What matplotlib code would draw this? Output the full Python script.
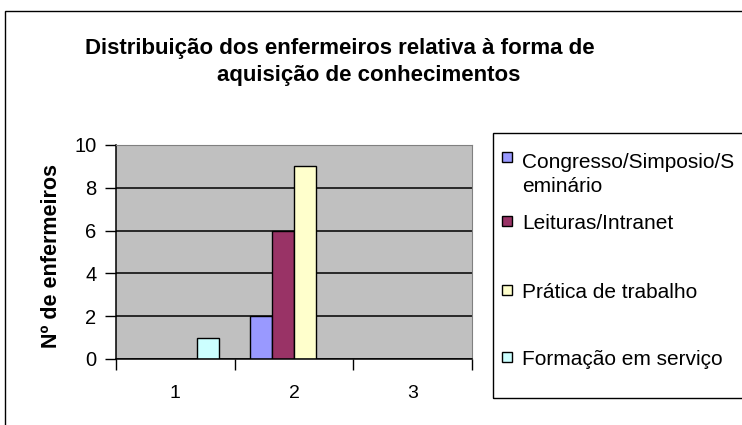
import numpy as np
import matplotlib.pyplot as plt
from matplotlib.patches import Rectangle

plt.rcParams['font.family'] = ['Liberation Sans', 'DejaVu Sans']

# data
categories = [1, 2, 3]
series_names = ['Congresso/Simposio/S\neminário', 'Leituras/Intranet',
                'Prática de trabalho', 'Formação em serviço']
congresso = [0, 2, 0]
leituras = [0, 6, 0]
pratica = [0, 9, 0]
formacao = [1, 0, 0]
colors = ['#9999FF', '#993366', '#FFFFCC', '#CCFFFF']
yticks = [0, 2, 4, 6, 8, 10]

W, H = 742, 425
fig = plt.figure(figsize=(W / 100, H / 100), dpi=100)


def fx(x):
    return x / W


def fy(y):
    return 1 - y / H


# outer chart border (runs off the right/bottom edge like the original)
fig.patches.append(Rectangle((fx(5), fy(440)), fx(760), fy(11) - fy(440),
                             transform=fig.transFigure, fill=False,
                             edgecolor='black', linewidth=1))

ax = fig.add_axes([fx(116), fy(359), fx(472) - fx(116), fy(145) - fy(359)])
ax.set_facecolor('#C0C0C0')

x = np.arange(len(categories)) + 1
width = 0.185
all_series = [congresso, leituras, pratica, formacao]
for i, vals in enumerate(all_series):
    ax.bar(x + (i - 1.5) * width, vals, width, color=colors[i],
           edgecolor='black', linewidth=1)

ax.set_xlim(0.5, 3.5)
ax.set_ylim(0, 10)
ax.set_yticks(yticks)
ax.set_xticks(x)
ax.set_xticklabels([str(c) for c in categories])
ax.set_xticks([0.5, 1.5, 2.5, 3.5], minor=True)
ax.tick_params(axis='x', which='major', length=0, pad=19, labelsize=14)
ax.tick_params(axis='x', which='minor', length=8, width=1)
ax.tick_params(axis='y', length=8, width=1, pad=6, labelsize=14.5)

ax.set_axisbelow(True)
ax.yaxis.grid(True, color='black', linewidth=1.1)
for s in ['top', 'right']:
    ax.spines[s].set_color('#808080')
for s in ['left', 'bottom']:
    ax.spines[s].set_color('black')
    ax.spines[s].set_linewidth(1.1)

ax.set_ylabel('Nº de enfermeiros', fontsize=15.5, fontweight='bold')
ax.yaxis.set_label_coords((52 - 116) / 356, 1 - (256 - 145) / 214)
ax.yaxis.label.set_va('center')

# title (two lines, as laid out in the original)
fig.text(fx(340), fy(54), 'Distribuição dos enfermeiros relativa à forma de',
         ha='center', va='baseline', fontsize=16, fontweight='bold')
fig.text(fx(369), fy(81), 'aquisição de conhecimentos',
         ha='center', va='baseline', fontsize=16, fontweight='bold')

# legend box
fig.patches.append(Rectangle((fx(493), fy(398)), fx(300), fy(133) - fy(398),
                             transform=fig.transFigure, fill=False,
                             edgecolor='black', linewidth=1))
marker_y = [157, 221, 290, 357]
for name, col, my in zip(series_names, colors, marker_y):
    fig.patches.append(Rectangle((fx(502), fy(my + 5)), fx(10), fy(my - 5) - fy(my + 5),
                                 transform=fig.transFigure, facecolor=col,
                                 edgecolor='black', linewidth=1))
    nlines = name.count('\n')
    fig.text(fx(522), fy(my + 8 + 27 * nlines), name, ha='left', va='baseline',
             fontsize=15, linespacing=1.35)

plt.savefig('out.png', dpi=100)
